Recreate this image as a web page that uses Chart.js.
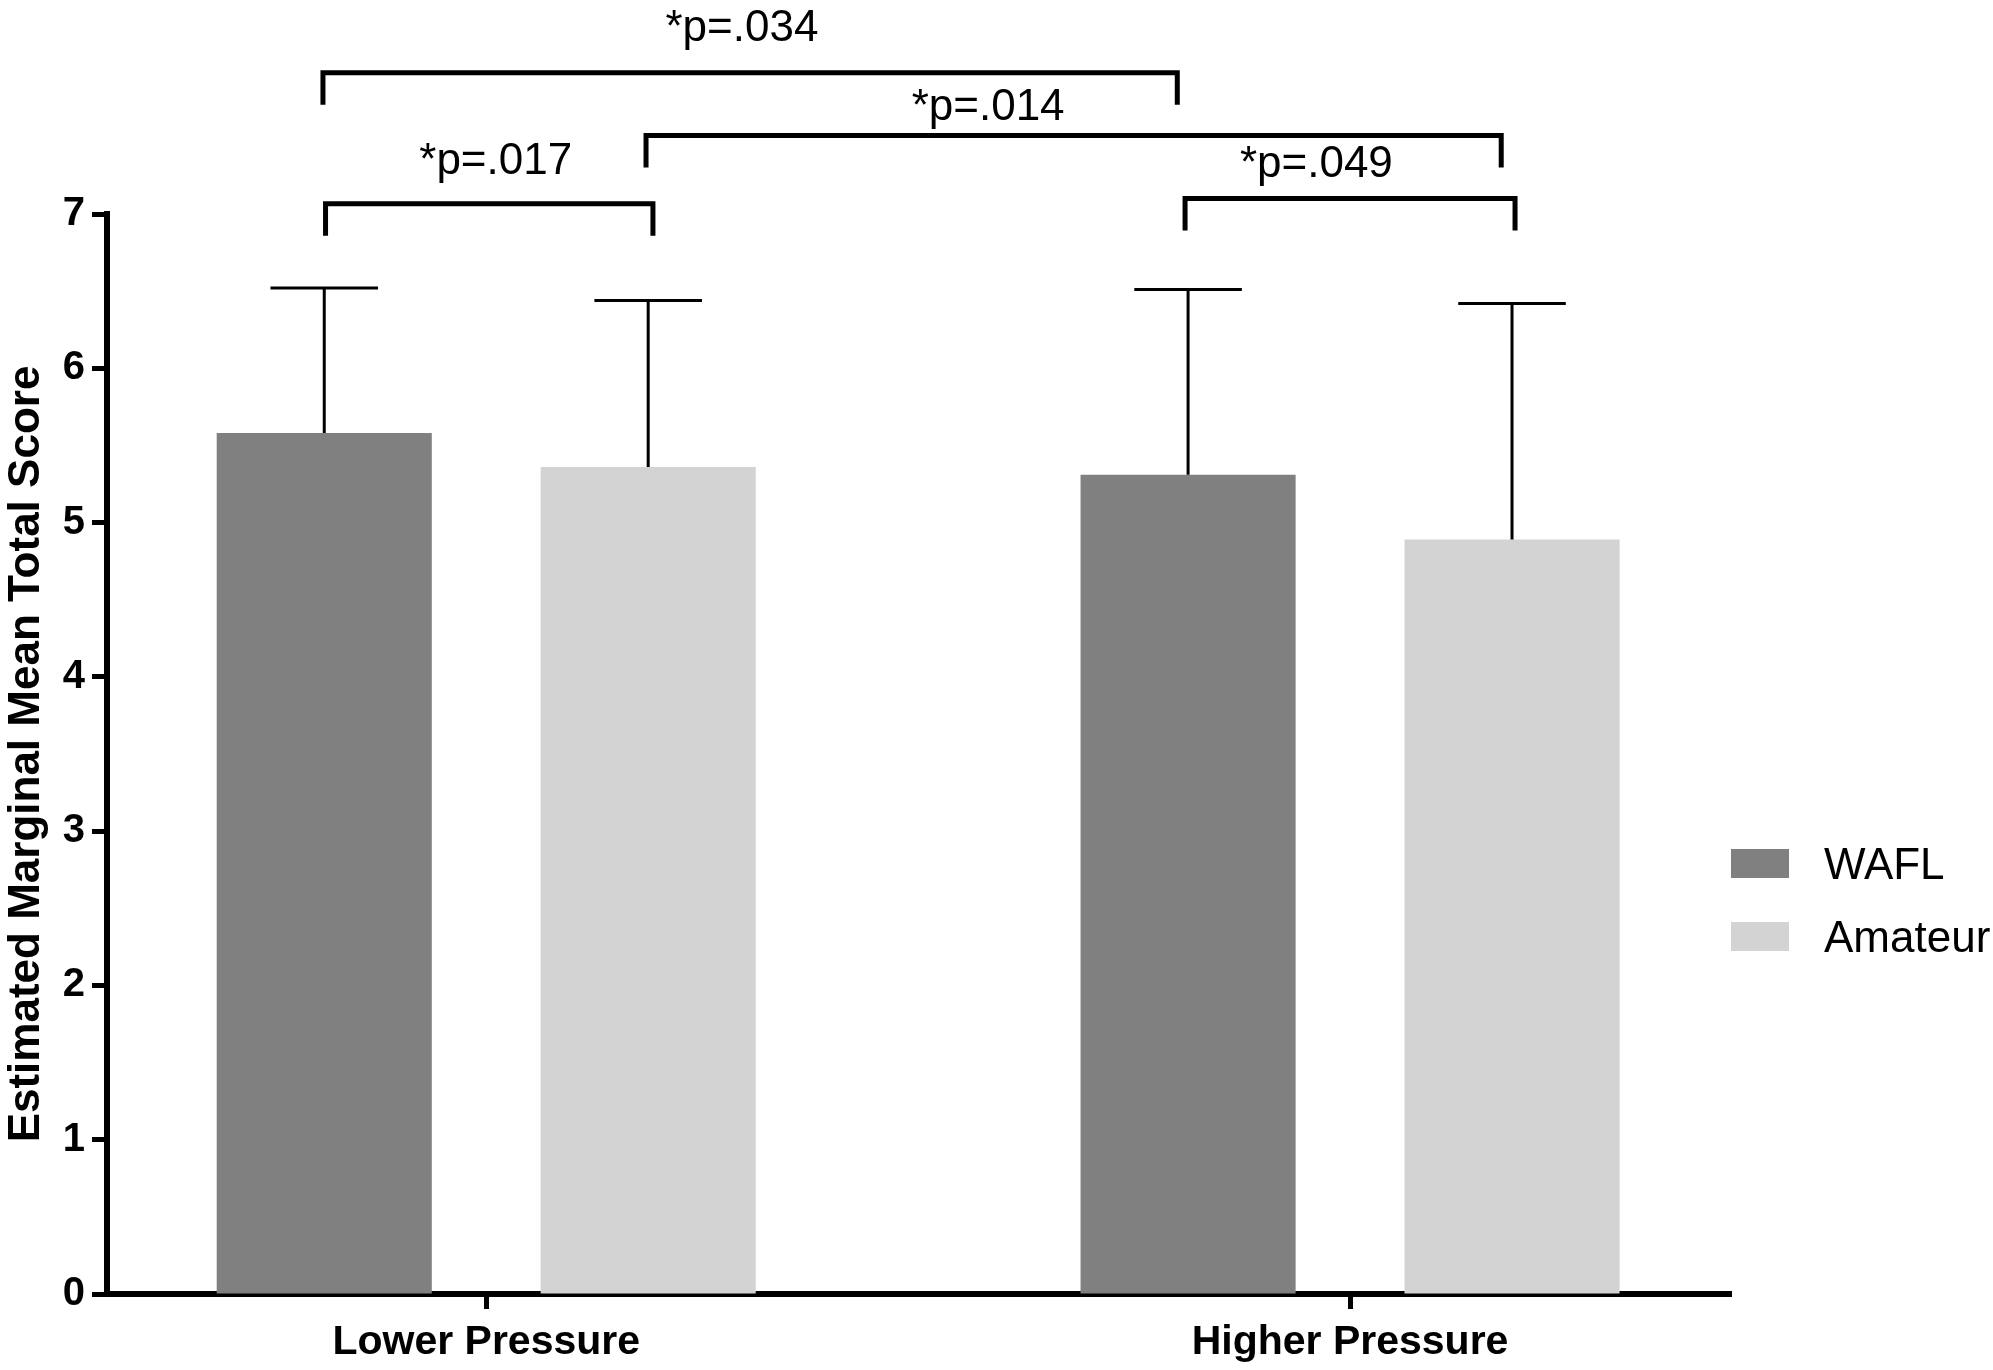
<!DOCTYPE html>
<html>
<head>
<meta charset="utf-8">
<script src="https://cdn.jsdelivr.net/npm/chart.js@4.4.1/dist/chart.umd.min.js"></script>
<style>
  html, body { margin: 0; padding: 0; background: #ffffff; }
  #wrap { width: 1993px; height: 1370px; }
</style>
</head>
<body>
<div id="wrap"><canvas id="c" width="1993" height="1370" style="width:1993px;height:1370px"></canvas></div>
<script>
// ---------------- data ----------------
const categories = ['Lower Pressure', 'Higher Pressure'];
const seriesNames = ['WAFL', 'Amateur'];
const waflMeans = [5.58, 5.31];
const waflErrors = [0.94, 1.20];
const amateurMeans = [5.36, 4.89];
const amateurErrors = [1.08, 1.53];
const yTickValues = [0, 1, 2, 3, 4, 5, 6, 7];
const pValueLabels = ['*p=.034', '*p=.014', '*p=.017', '*p=.049'];

// ---------------- style / layout ----------------
const FONT = "'Liberation Sans', Arial, Helvetica, sans-serif";
const COLORS = ['#808080', '#d3d3d3'];
// significance brackets: x in x-axis units, levels in y-axis units
const bracketLayout = [
  { from: -0.189, to: 0.800, level: 7.915, labelX: 0.296, labelY: 8.124 },
  { from: 0.185,  to: 1.175, level: 7.508, labelX: 0.581, labelY: 7.612 },
  { from: -0.186, to: 0.193, level: 7.067, labelX: 0.011, labelY: 7.260 },
  { from: 0.809,  to: 1.191, level: 7.100, labelX: 0.961, labelY: 7.238 }
];
const bracketStyle = { legLength: 32, lineWidth: 5, fontSize: 44 };
const legendLayout = { top: 849, rowGap: 73, boxW: 58, boxH: 29, textGap: 35, fontSize: 44 };

const errorBarPlugin = {
  id: 'errorBars',
  afterDatasetsDraw(chart) {
    const ctx = chart.ctx;
    const ys = chart.scales.y;
    ctx.save();
    ctx.strokeStyle = '#000';
    ctx.lineWidth = 3;
    ctx.lineCap = 'butt';
    chart.data.datasets.forEach((ds, di) => {
      const meta = chart.getDatasetMeta(di);
      meta.data.forEach((bar, i) => {
        const p = bar.getProps(['x', 'y', 'width'], true);
        const v = ds.data[i].y + ds.errors[i];
        const top = ys.getPixelForValue(v);
        ctx.beginPath();
        ctx.moveTo(p.x, p.y);
        ctx.lineTo(p.x, top);
        ctx.moveTo(p.x - p.width / 4, top);
        ctx.lineTo(p.x + p.width / 4, top);
        ctx.stroke();
      });
    });
    ctx.restore();
  }
};

const bracketPlugin = {
  id: 'brackets',
  afterDraw(chart) {
    const ctx = chart.ctx;
    const xs = chart.scales.x, ys = chart.scales.y;
    ctx.save();
    ctx.strokeStyle = '#000';
    ctx.fillStyle = '#000';
    ctx.lineWidth = bracketStyle.lineWidth;
    ctx.lineJoin = 'miter';
    ctx.lineCap = 'butt';
    ctx.font = bracketStyle.fontSize + 'px ' + FONT;
    ctx.textAlign = 'center';
    ctx.textBaseline = 'alphabetic';
    bracketLayout.forEach((b, i) => {
      const x1 = xs.getPixelForValue(b.from);
      const x2 = xs.getPixelForValue(b.to);
      const y = ys.getPixelForValue(b.level);
      ctx.beginPath();
      ctx.moveTo(x1, y + bracketStyle.legLength);
      ctx.lineTo(x1, y);
      ctx.lineTo(x2, y);
      ctx.lineTo(x2, y + bracketStyle.legLength);
      ctx.stroke();
      ctx.fillText(pValueLabels[i], xs.getPixelForValue(b.labelX), ys.getPixelForValue(b.labelY));
    });
    ctx.restore();
  }
};

const legendPlugin = {
  id: 'sideLegend',
  afterDraw(chart) {
    const ctx = chart.ctx;
    const L = legendLayout;
    ctx.save();
    ctx.font = L.fontSize + 'px ' + FONT;
    ctx.textAlign = 'left';
    ctx.textBaseline = 'alphabetic';
    chart.data.datasets.forEach((ds, i) => {
      const x = chart.chartArea.right;
      const y = L.top + i * L.rowGap;
      ctx.fillStyle = ds.backgroundColor;
      ctx.fillRect(x, y, L.boxW, L.boxH);
      ctx.fillStyle = '#000';
      ctx.fillText(ds.label, x + L.boxW + L.textGap, y + L.boxH / 2 + 0.358 * L.fontSize);
    });
    ctx.restore();
  }
};

const chart = new Chart(document.getElementById('c'), {
  type: 'bar',
  data: {
    datasets: [
      {
        label: seriesNames[0],
        data: categories.map((c, i) => ({ x: i, y: waflMeans[i] })),
        errors: waflErrors,
        backgroundColor: COLORS[0],
        borderWidth: 0,
        categoryPercentage: 0.75,
        barPercentage: 0.664
      },
      {
        label: seriesNames[1],
        data: categories.map((c, i) => ({ x: i, y: amateurMeans[i] })),
        errors: amateurErrors,
        backgroundColor: COLORS[1],
        borderWidth: 0,
        categoryPercentage: 0.75,
        barPercentage: 0.664
      }
    ]
  },
  options: {
    responsive: false,
    devicePixelRatio: 1,
    animation: false,
    layout: { padding: { top: 214, right: 262, bottom: 0, left: 0 } },
    plugins: { legend: { display: false }, tooltip: { enabled: false } },
    scales: {
      x: {
        type: 'linear',
        min: -0.439,
        max: 1.441,
        offset: false,
        afterBuildTicks: (ax) => { ax.ticks = categories.map((c, i) => ({ value: i })); },
        afterFit: (ax) => { ax.height = 76; },
        ticks: {
          callback: (v) => (categories[v] !== undefined ? categories[v] : ''),
          autoSkip: false,
          maxRotation: 0,
          color: '#000',
          padding: 9,
          font: { family: FONT, size: 41, weight: 'bold' }
        },
        grid: {
          offset: false,
          drawOnChartArea: false,
          drawTicks: true,
          tickLength: 15,
          tickWidth: 5,
          tickColor: '#000',
          color: '#000'
        },
        border: { display: true, color: '#000', width: 6 }
      },
      y: {
        min: 0,
        max: 7,
        afterFit: (ax) => { ax.width = 107; },
        afterBuildTicks: (ax) => { ax.ticks = yTickValues.map((v) => ({ value: v })); },
        ticks: {
          color: '#000',
          padding: 7,
          font: { family: FONT, size: 40, weight: 'bold' }
        },
        grid: {
          drawOnChartArea: false,
          tickLength: 15,
          tickWidth: 5,
          tickColor: '#000',
          color: '#000'
        },
        border: { display: true, color: '#000', width: 6 },
        title: {
          display: true,
          text: 'Estimated Marginal Mean Total Score',
          color: '#000',
          padding: 0,
          font: { family: FONT, size: 44, weight: 'bold' }
        }
      }
    }
  },
  plugins: [errorBarPlugin, bracketPlugin, legendPlugin]
});
</script>
</body>
</html>
